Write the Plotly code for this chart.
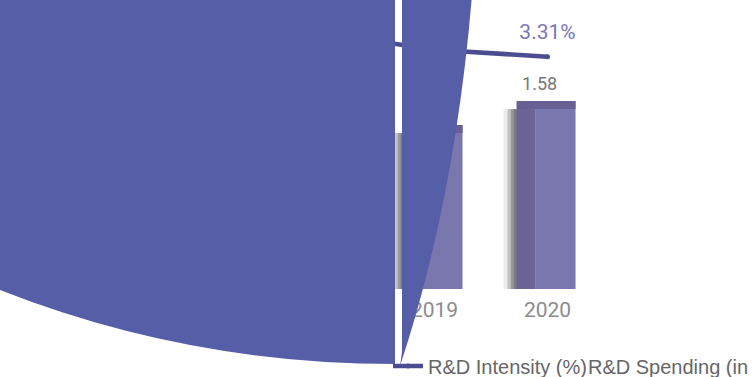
import plotly.graph_objects as go

years = ["2017", "2018", "2019", "2020"]
spending = [1.22, 1.30, 1.37, 1.58]          # R&D Spending (in billions)
intensity = [3.45, 3.65, 3.41, 3.31]         # R&D Intensity (%)
spending_labels = [f"{v:.2f}" for v in spending]
intensity_labels = [f"{v:.2f}%" for v in intensity]

W, H = 753, 377
L, R, T, B = 152, 149, 20, 88
PW, PH = W - L - R, H - T - B


def px_path(points):
    # pixel coords -> paper coords for the overlay blob
    out = []
    for cmd, *xy in points:
        seg = cmd
        for i in range(0, len(xy), 2):
            seg += f" {(xy[i] - L) / PW:.4f},{(H - B - xy[i + 1]) / PH:.4f}"
        out.append(seg)
    return " ".join(out) + " Z"


fig = go.Figure()

# pseudo-3D bars: shadow strips, side face, front face, top face
for off, wid, col in [(-0.39, 0.04, "#ececec"), (-0.355, 0.035, "#c4c4c4"), (-0.325, 0.03, "#9a9a9a"),
                      (-0.30, 0.03, "#7c7c7c")]:
    fig.add_trace(go.Bar(x=years, y=spending, offset=off, width=wid, marker=dict(color=col, line_width=0, cornerradius=4),
                         showlegend=False, hoverinfo="skip"))
fig.add_trace(go.Bar(x=years, y=spending, offset=-0.274, width=0.17, marker=dict(color="#6c6396", line_width=0),
                     showlegend=False, hoverinfo="skip"))
fig.add_trace(go.Bar(x=years, y=spending, offset=-0.106, width=0.354, name="R&D Spending (in billions)",
                     marker=dict(color="#7a76ae", line_width=0), showlegend=False))
fig.add_trace(go.Bar(x=years, y=[0.07] * len(years), base=spending, offset=-0.274, width=0.524,
                     marker=dict(color="#686094", line_width=0), showlegend=False, hoverinfo="skip"))
# value labels above bars
fig.add_trace(go.Bar(x=years, y=spending, base=0.11, offset=-0.32, width=0.5, text=spending_labels,
                     textposition="outside", textfont=dict(family="Roboto", size=18, color="#777777"),
                     marker=dict(color="rgba(0,0,0,0)", line_width=0), cliponaxis=False,
                     showlegend=False, hoverinfo="skip"))

# intensity line
fig.add_trace(go.Scatter(x=years, y=intensity, yaxis="y2", mode="lines+markers", name="R&D Intensity (%)",
                         line=dict(color="#4b4d91", width=4.5), marker=dict(size=5, color="#4b4d91"),
                         cliponaxis=False))
fig.add_trace(go.Scatter(x=years, y=intensity, yaxis="y2", mode="markers+text", text=intensity_labels,
                         textposition="top center", textfont=dict(family="Roboto", size=21, color="#7b75b8"),
                         marker=dict(size=18, color="rgba(0,0,0,0)"), showlegend=False, hoverinfo="skip",
                         cliponaxis=False))
# legend entry for the bars (its icon is lost under the other one in the reference)
fig.add_trace(go.Scatter(x=[years[-1]], y=[None], mode="lines", name="R&D Spending (in billions)",
                         line=dict(color="rgba(0,0,0,0)", width=0), legend="legend2", hoverinfo="skip"))

# the oversized marker blob that covers the left of the chart
blob = "#575ea8"
left_blob = px_path([("M", 395, -5), ("L", 395, 364), ("Q", 185, 364, -5, 288), ("L", -5, -5)])
right_blob = px_path([("M", 402, -5), ("L", 472, -5), ("Q", 455, 200, 400, 366), ("L", 402, 352)])
fig.update_layout(shapes=[
    dict(type="path", xref="paper", yref="paper", path=left_blob, fillcolor=blob, line_width=0, layer="above"),
    dict(type="path", xref="paper", yref="paper", path=right_blob, fillcolor=blob, line_width=0, layer="above"),
])

legend_font = dict(family="Liberation Sans, Arial", size=20, color="#666666")
fig.update_layout(
    width=W, height=H,
    margin=dict(l=L, r=R, t=T, b=B, autoexpand=False),
    barmode="overlay",
    paper_bgcolor="white", plot_bgcolor="white",
    xaxis=dict(type="category", showgrid=False, showline=False, ticks="", ticklabelstandoff=6, automargin=False,
               tickfont=dict(family="Roboto", size=21, color="#8c8c8c")),
    yaxis=dict(range=[0, PH / 113.9], visible=False),
    yaxis2=dict(range=[0, 3.833], overlaying="y", side="right", visible=False),
    legend=dict(orientation="h", xref="container", yref="container", x=388 / W, xanchor="left",
                y=(H - 366) / H, yanchor="middle", entrywidth=165, font=legend_font,
                bgcolor="rgba(0,0,0,0)"),
    legend2=dict(orientation="h", xref="container", yref="container", x=548 / W, xanchor="left",
                 y=(H - 366) / H, yanchor="middle", entrywidth=W - 589, font=legend_font,
                 bgcolor="rgba(0,0,0,0)"),
    showlegend=True,
)

fig.write_html("out.html", config={"displayModeBar": False},
               post_script="document.body.style.margin='0';")
